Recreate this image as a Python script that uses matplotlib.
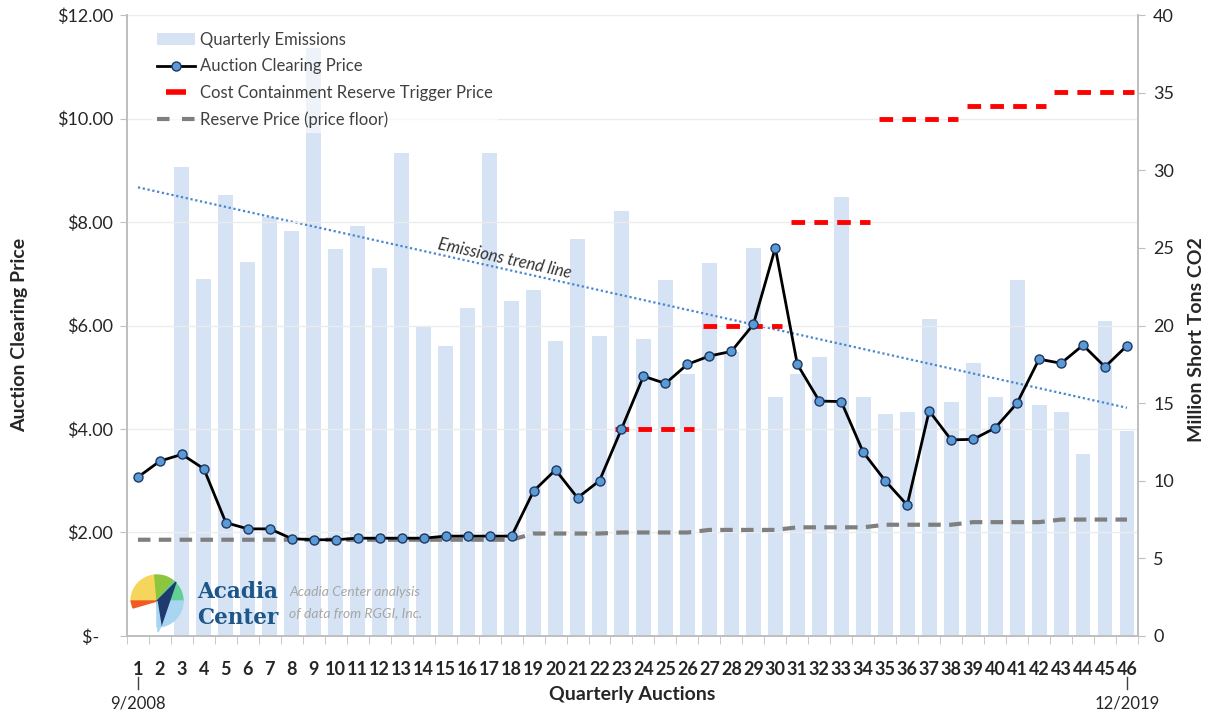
import numpy as np
import matplotlib.pyplot as plt
import matplotlib.transforms as mtransforms
from matplotlib.lines import Line2D
from matplotlib.patches import Patch, Wedge, Polygon

plt.rcParams['font.family'] = ['Lato', 'DejaVu Sans']

# Data
auctions = list(range(1, 47))
emission_auctions = list(range(3, 47))
emissions = [30.2, 23.0, 28.4, 24.1, 27.0, 26.1, 37.9, 24.9, 26.4, 23.7,
             31.1, 20.0, 18.7, 21.1, 31.1, 21.6, 22.3, 19.0, 25.6, 19.3,
             27.4, 19.1, 22.9, 16.9, 24.0, 18.3, 25.0, 15.4, 16.9, 18.0,
             28.3, 15.4, 14.3, 14.4, 20.4, 15.1, 17.6, 15.4, 22.9, 14.9,
             14.4, 11.7, 20.3, 13.2]  # million short tons CO2
clearing_price = [3.07, 3.38, 3.51, 3.23, 2.19, 2.07, 2.07, 1.88, 1.86, 1.86,
                  1.89, 1.89, 1.89, 1.89, 1.93, 1.93, 1.93, 1.93, 2.80, 3.21,
                  2.67, 3.00, 4.00, 5.02, 4.88, 5.25, 5.41, 5.50, 6.02, 7.50,
                  5.25, 4.54, 4.53, 3.55, 3.00, 2.53, 4.35, 3.79, 3.80, 4.02,
                  4.50, 5.35, 5.27, 5.62, 5.20, 5.61]
reserve_price = [1.86, 1.86, 1.86, 1.86, 1.86, 1.86, 1.86, 1.86, 1.86, 1.86,
                 1.86, 1.86, 1.86, 1.86, 1.86, 1.86, 1.86, 1.86, 1.98, 1.98,
                 1.98, 1.98, 2.00, 2.00, 2.00, 2.00, 2.05, 2.05, 2.05, 2.05,
                 2.10, 2.10, 2.10, 2.10, 2.15, 2.15, 2.15, 2.15, 2.20, 2.20,
                 2.20, 2.20, 2.25, 2.25, 2.25, 2.25]
ccr_first = [23, 27, 31, 35, 39, 43]
ccr_last = [26, 30, 34, 38, 42, 46]
ccr_price = [4.00, 6.00, 8.00, 10.00, 10.25, 10.51]
trend_x = [1, 46]
trend_y = [28.9, 14.7]

bar_color = '#d5e3f4'
text_color = '#262626'
spine_color = '#bfbfbf'

fig = plt.figure(figsize=(12.15, 7.15), dpi=100)
ax = fig.add_axes([0.1045, 0.1105, 0.8321, 0.8685])
ax2 = ax.twinx()

# emissions bars on the right-hand axis
ax.bar(emission_auctions, emissions, width=0.68, color=bar_color, zorder=1)
ax.plot(trend_x, trend_y, color='#4a86d0', lw=1.6, ls=(0, (1, 1.2)), zorder=2)
ax.text(17.7, 24.3, 'Emissions trend line', rotation=-12.4, rotation_mode='anchor',
        ha='center', va='center', fontsize=12, style='italic', color='#333333')
ax.set_ylim(0, 40)
ax.set_yticks(range(0, 41, 5))
ax.yaxis.tick_right()
ax.yaxis.set_label_position('right')

# prices on the left-hand axis
ax2.yaxis.tick_left()
ax2.yaxis.set_label_position('left')
ax2.set_ylim(0, 12)
ax2.set_yticks(range(0, 13, 2))
ax2.set_yticklabels(['$-   '] + ['${:.2f}'.format(v) for v in range(2, 13, 2)])
ax2.grid(axis='y', color='#ececec', lw=1)
ax2.plot(auctions, reserve_price, color='#7f7f7f', lw=3, ls=(0, (3, 2)), zorder=3)
for a0, a1, p in zip(ccr_first, ccr_last, ccr_price):
    ax2.plot([a0 - 0.3, a1 + 0.3], [p, p], color='#ff0000', lw=3.5,
             ls=(0, (2.8, 1.9)), solid_capstyle='butt', zorder=4)
ax2.plot(auctions, clearing_price, color='black', lw=2, marker='o', ms=6.5,
         mfc='#5b9bd5', mec='#1f3864', mew=1, zorder=5)

ax.set_xlim(0.5, 46.5)
ax.set_xticks(auctions)
ax.set_xticklabels([str(a) for a in auctions])
ax.set_xticks(np.arange(0.5, 47, 1), minor=True)
ax.tick_params(axis='x', which='major', length=0, pad=18, labelsize=13,
               labelcolor=text_color)
ax.tick_params(axis='x', which='minor', length=6, color=spine_color)
for lbl in ax.get_xticklabels():
    lbl.set_fontweight('bold')
ax.tick_params(axis='y', length=5, color=spine_color, labelsize=13,
               labelcolor=text_color, pad=6)
ax2.tick_params(axis='y', length=5, color=spine_color, labelsize=13,
                labelcolor=text_color, pad=5)

for a in (ax, ax2):
    a.spines['top'].set_visible(False)
    for s in ('left', 'right', 'bottom'):
        a.spines[s].set_color(spine_color)
        a.spines[s].set_linewidth(1.3)

# start / end dates under the first and last auction
blend = mtransforms.blended_transform_factory(ax.transData, ax.transAxes)
for a, txt in ((1, '9/2008'), (46, '12/2019')):
    ax.plot([a, a], [-0.066, -0.086], color='#404040', lw=1, transform=blend,
            clip_on=False)
    ax.text(a, -0.109, txt, transform=blend, ha='center', va='center',
            fontsize=12, color=text_color)

ax.text(0.5, -0.095, 'Quarterly Auctions', transform=ax.transAxes, ha='center',
        va='center', fontsize=14, fontweight='bold', color=text_color)
fig.text(20 / 1215, 1 - 335 / 715, 'Auction Clearing Price', rotation=90,
         ha='center', va='center', fontsize=14, fontweight='bold', color=text_color)
fig.text(1197 / 1215, 1 - 340 / 715, 'Million Short Tons CO2', rotation=90,
         ha='center', va='center', fontsize=14, fontweight='bold', color=text_color)

handles = [
    Patch(facecolor=bar_color, edgecolor='none'),
    Line2D([], [], color='black', lw=2, marker='o', ms=6.5, mfc='#5b9bd5',
           mec='#1f3864'),
    Line2D([], [], color='#ff0000', marker='_', ms=14, mew=4, ls='none'),
    Line2D([], [], color='#7f7f7f', lw=3, ls=(0, (3, 3))),
]
labels = ['Quarterly Emissions', 'Auction Clearing Price',
          'Cost Containment Reserve Trigger Price', 'Reserve Price (price floor)']
leg = ax2.legend(handles, labels, loc='upper left',
                 bbox_to_anchor=(152 / 1215, 1 - 27 / 715),
                 bbox_transform=fig.transFigure, fontsize=12, frameon=True,
                 handlelength=2.3, handletextpad=0.3, labelspacing=0.62,
                 borderpad=0.3, borderaxespad=0)
leg.get_frame().set_facecolor('white')
leg.get_frame().set_alpha(0.6)
leg.get_frame().set_edgecolor('none')
for t in leg.get_texts():
    t.set_color('#404040')

# Acadia Center logo
lax = fig.add_axes([128 / 1215, 1 - 634 / 715, 60 / 1215, 62 / 715])
lax.set_xlim(0, 60)
lax.set_ylim(0, 62)
lax.axis('off')
c = (29, 33)
lax.add_patch(Wedge(c, 26, 95, 180, color='#f6d55c'))
lax.add_patch(Wedge(c, 26, 50, 95, color='#8cc63f'))
lax.add_patch(Wedge(c, 26, 0, 50, color='#62d096'))
lax.add_patch(Wedge(c, 26, 270, 360, color='#a8d5f2'))
lax.add_patch(Polygon([(3, 33), (29, 33), (5, 26)], color='#f15a24'))
lax.add_patch(Polygon([(29, 33), (48, 52), (33, 8)], color='#1f3a6e'))
lax.add_patch(Polygon([(29, 33), (33, 8), (30, 2)], color='#a8d5f2'))

fig.text(197 / 1215, 1 - 592 / 715, 'Acadia', fontsize=15.5, color='#1d5688',
         family='DejaVu Serif', fontweight='bold', va='center')
fig.text(197 / 1215, 1 - 618 / 715, 'Center', fontsize=15.5, color='#1d5688',
         family='DejaVu Serif', fontweight='bold', va='center')
fig.text(289 / 1215, 1 - 592 / 715, 'Acadia Center analysis', fontsize=10,
         style='italic', color='#a6a6a6', va='center')
fig.text(289 / 1215, 1 - 613 / 715, 'of data from RGGI, Inc.', fontsize=10,
         style='italic', color='#a6a6a6', va='center')

fig.savefig('out.png', dpi=100)
